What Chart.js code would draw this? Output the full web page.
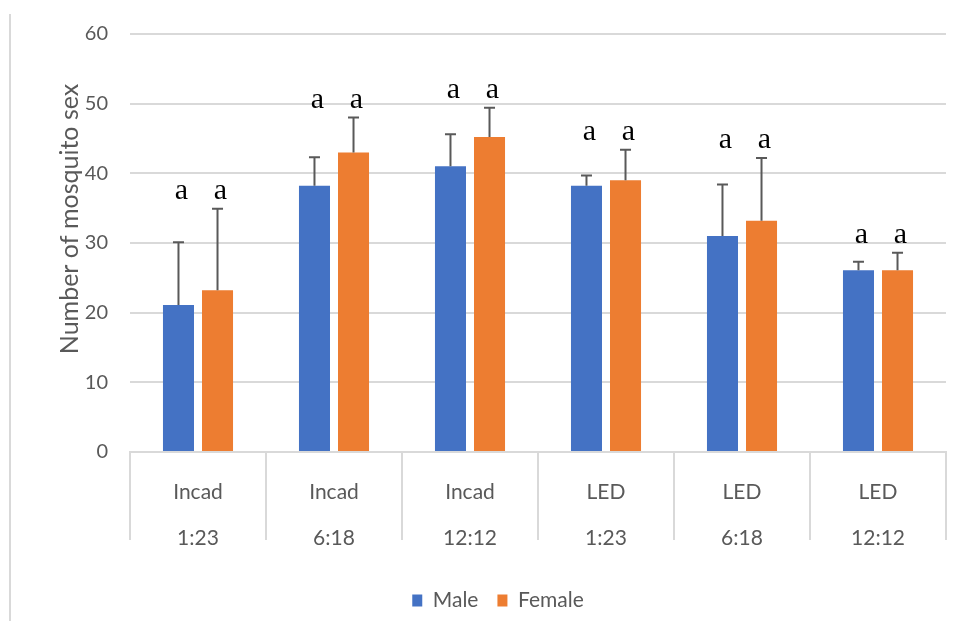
<!DOCTYPE html>
<html>
<head>
<meta charset="utf-8">
<script src="https://cdn.jsdelivr.net/npm/chart.js@4/dist/chart.umd.min.js"></script>
<style>
  html, body { margin: 0; padding: 0; background: #fff; }
  #wrap { position: relative; width: 962px; height: 621px; }
  #frame { position: absolute; left: 9px; top: 14px; bottom: 0; border-left: 2px solid #d9d9d9; }
  canvas { position: absolute; left: 0; top: 0; }
</style>
</head>
<body>
<div id="wrap">
  <div id="frame"></div>
  <canvas id="chart" width="962" height="621"></canvas>
</div>
<script>
// Lamp type and photoperiod (light:dark hours) for each treatment
const lampTypes = ['Incad', 'Incad', 'Incad', 'LED', 'LED', 'LED'];
const photoperiods = ['1:23', '6:18', '12:12', '1:23', '6:18', '12:12'];

// Mean number of emerged mosquitoes by sex, with standard errors
const maleMeans = [21.1, 38.2, 41.0, 38.2, 31.0, 26.1];
const maleErrors = [9.0, 4.1, 4.6, 1.5, 7.4, 1.2];
const femaleMeans = [23.2, 43.0, 45.2, 39.0, 33.2, 26.1];
const femaleErrors = [11.7, 5.0, 4.2, 4.4, 9.0, 2.5];

// Significance letters shown above each bar
const maleLetters = ['a', 'a', 'a', 'a', 'a', 'a'];
const femaleLetters = ['a', 'a', 'a', 'a', 'a', 'a'];

// Y-axis tick values
const yTicks = [0, 10, 20, 30, 40, 50, 60];

const SANS = 'Lato, "Noto Sans", sans-serif';
const TEXT_GREY = '#595959';
const GRID_GREY = '#d9d9d9';

const labels = lampTypes.map((t, i) => [t, photoperiods[i]]);

// Error bars (upper whisker only) drawn from the mean + error values
const errorBarPlugin = {
  id: 'errorBars',
  afterDatasetsDraw(chart) {
    const { ctx } = chart;
    const yScale = chart.scales.y;
    ctx.save();
    ctx.strokeStyle = TEXT_GREY;
    ctx.lineWidth = 2;
    chart.data.datasets.forEach((ds, di) => {
      const meta = chart.getDatasetMeta(di);
      meta.data.forEach((bar, j) => {
        const top = yScale.getPixelForValue(ds.data[j] + ds.errors[j]);
        const base = yScale.getPixelForValue(ds.data[j]);
        ctx.beginPath();
        ctx.moveTo(bar.x, base);
        ctx.lineTo(bar.x, top);
        ctx.moveTo(bar.x - 5.5, top);
        ctx.lineTo(bar.x + 5.5, top);
        ctx.stroke();
      });
    });
    ctx.restore();
  }
};

// Significance letters, set just above the taller whisker of each group
const letterPlugin = {
  id: 'sigLetters',
  afterDatasetsDraw(chart) {
    const { ctx } = chart;
    const yScale = chart.scales.y;
    const sets = chart.data.datasets;
    ctx.save();
    ctx.fillStyle = '#000';
    ctx.font = '30px "Liberation Serif", "DejaVu Serif", serif';
    ctx.textAlign = 'center';
    ctx.textBaseline = 'alphabetic';
    labels.forEach((_, j) => {
      const highest = Math.max(...sets.map(ds => ds.data[j] + ds.errors[j]));
      const baseY = yScale.getPixelForValue(highest) - 10;
      sets.forEach((ds, di) => {
        const bar = chart.getDatasetMeta(di).data[j];
        ctx.fillText(ds.letters[j], bar.x + 3, baseY);
      });
    });
    ctx.restore();
  }
};

// Rotated y-axis title
const yTitlePlugin = {
  id: 'yTitle',
  afterDraw(chart) {
    const { ctx, chartArea } = chart;
    ctx.save();
    ctx.translate(70, (chartArea.top + chartArea.bottom) / 2 - 24);
    ctx.rotate(-Math.PI / 2);
    ctx.fillStyle = TEXT_GREY;
    ctx.font = '25px ' + SANS;
    ctx.textAlign = 'center';
    ctx.textBaseline = 'middle';
    ctx.fillText('Number of mosquito sex', 0, 0);
    ctx.restore();
  }
};

new Chart(document.getElementById('chart'), {
  type: 'bar',
  data: {
    labels: labels,
    datasets: [
      {
        label: 'Male',
        data: maleMeans,
        errors: maleErrors,
        letters: maleLetters,
        backgroundColor: '#4472C4',
        categoryPercentage: 0.574,
        barPercentage: 0.795
      },
      {
        label: 'Female',
        data: femaleMeans,
        errors: femaleErrors,
        letters: femaleLetters,
        backgroundColor: '#ED7D31',
        categoryPercentage: 0.574,
        barPercentage: 0.795
      }
    ]
  },
  options: {
    responsive: false,
    animation: false,
    devicePixelRatio: 1,
    layout: { padding: { left: 50, right: 16, top: 31, bottom: 0 } },
    plugins: {
      tooltip: { enabled: false },
      legend: {
        position: 'bottom',
        labels: {
          color: TEXT_GREY,
          font: { family: SANS, size: 21 },
          boxWidth: 10,
          boxHeight: 12,
          padding: 19
        }
      }
    },
    scales: {
      x: {
        offset: true,
        grid: {
          offset: true,
          drawOnChartArea: false,
          drawTicks: true,
          tickLength: 88,
          color: GRID_GREY,
          lineWidth: 2
        },
        border: { display: true, color: GRID_GREY, width: 2 },
        ticks: {
          color: TEXT_GREY,
          font: { family: SANS, size: 21, lineHeight: 2.2 },
          padding: -71,
          maxRotation: 0,
          autoSkip: false
        },
        afterFit(scale) { scale.height = 119; }
      },
      y: {
        min: 0,
        max: 60,
        afterBuildTicks(scale) { scale.ticks = yTicks.map(v => ({ value: v })); },
        ticks: { color: TEXT_GREY, font: { family: SANS, size: 20 }, padding: 22 },
        grid: { color: GRID_GREY, lineWidth: 2, drawTicks: false },
        border: { display: false },
        afterFit(scale) { scale.width = 80; }
      }
    }
  },
  plugins: [errorBarPlugin, letterPlugin, yTitlePlugin]
});
</script>
</body>
</html>
